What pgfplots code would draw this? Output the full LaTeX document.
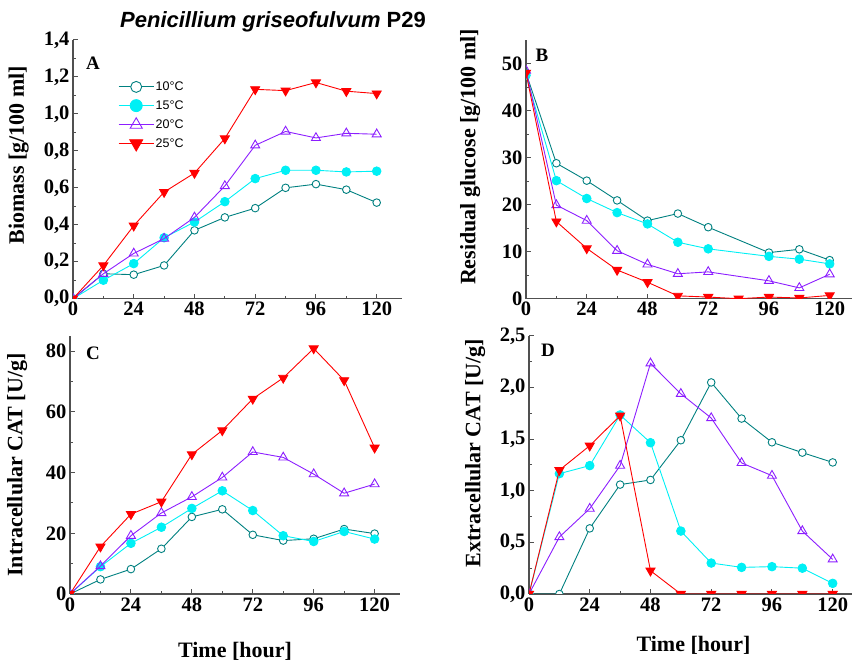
\documentclass[border=0pt]{standalone}
\usepackage{fontspec}
\setmainfont{Liberation Serif}
\newfontfamily\sansf{Liberation Sans}
\usepackage{pgfplots}
\pgfplotsset{compat=1.18}

\definecolor{cTen}{RGB}{0,128,128}
\definecolor{cFifteen}{RGB}{0,240,245}
\definecolor{cTwenty}{RGB}{140,30,255}
\definecolor{cTwentyFive}{RGB}{255,0,0}
\definecolor{axisgray}{RGB}{80,80,80}

\pgfplotsset{
  panel/.style={
    scale only axis, width=329pt, height=258.7pt,
    xmin=0, xmax=130, ymin=0,
    axis x line*=bottom, axis y line*=left,
    every outer x axis line/.append style={-},
    every outer y axis line/.append style={-},
    axis line style={-, draw=axisgray, line width=1.3pt},
    tick align=inside,
    major tick length=5pt, minor tick length=3pt,
    tick style={draw=axisgray, line width=1pt},
    xtick={0,24,...,120}, minor x tick num=1,
    minor y tick num=1,
    tick label style={font=\bfseries\fontsize{20.5}{20.5}\selectfont},
    /pgf/number format/assume math mode=true,
    clip marker paths=true,
  },
  ylab/.style 2 args={
    every axis y label/.style={at={(axis description cs:#1,#2)}, rotate=90, anchor=center,
      font=\bfseries\fontsize{22}{22}\selectfont}},
  xlab/.style={
    every axis x label/.style={at={(axis description cs:0.5,#1)}, anchor=center,
      font=\bfseries\fontsize{22}{22}\selectfont}},
  comma/.style={yticklabel style={/pgf/number format/.cd, use comma, fixed, fixed zerofill, precision=1}},
  s10/.style={color=cTen, line width=0.9pt, mark=*, mark size=3.8pt, mark options={fill=white, line width=0.9pt}},
  s15/.style={color=cFifteen, line width=0.9pt, mark=*, mark size=4.3pt},
  s20/.style={color=cTwenty, line width=0.9pt, mark=triangle, mark size=5.2pt, mark options={fill=white, line width=0.9pt}},
  s25/.style={color=cTwentyFive, line width=0.9pt, mark=triangle*, mark size=5.2pt, mark options={rotate=180}},
}

\begin{document}
\begin{tikzpicture}
\path[use as bounding box] (0,0) rectangle (852pt,664pt);

% Title
\node[font=\sansf\bfseries\fontsize{22}{22}\selectfont, anchor=base] at (273pt,636pt)
  {\itshape Penicillium griseofulvum\/ \upshape P29};

% A: biomass
\begin{axis}[panel, comma, at={(73pt,365.3pt)}, anchor=south west,
  ymax=1.4, ytick={0,0.2,...,1.41},
  ylabel={Biomass [g/100 ml]}, ylab={-0.165}{0.555},
  legend style={draw=none, fill=none, at={(axis description cs:0.137,0.845)}, anchor=north west,
    font=\sansf\fontsize{12.5}{12.5}\selectfont, row sep=5.5pt, inner sep=0pt, nodes={inner sep=1.5pt}},
  legend cell align=left,
  legend image code/.code={\draw[mark repeat=2, mark phase=2] plot coordinates {(0pt,0pt) (17.5pt,0pt) (35pt,0pt)};},
]
\addplot[s10, forget plot] coordinates {(0,0)(12,0.135)(24,0.13)(36,0.18)(48,0.37)(60,0.44)(72,0.49)(84,0.60)(96,0.62)(108,0.59)(120,0.52)};
\addplot[s15, forget plot] coordinates {(0,0)(12,0.10)(24,0.19)(36,0.33)(48,0.415)(60,0.525)(72,0.65)(84,0.695)(96,0.695)(108,0.686)(120,0.69)};
\addplot[s20, forget plot] coordinates {(0,0)(12,0.135)(24,0.245)(36,0.325)(48,0.44)(60,0.61)(72,0.83)(84,0.905)(96,0.87)(108,0.895)(120,0.89)};
\addplot[s25, forget plot] coordinates {(0,0)(12,0.18)(24,0.395)(36,0.577)(48,0.68)(60,0.867)(72,1.133)(84,1.126)(96,1.17)(108,1.123)(120,1.11)};
\addlegendimage{s10, mark size=5.5pt}
\addlegendentry{10°C}
\addlegendimage{s15, mark size=6pt}
\addlegendentry{15°C}
\addlegendimage{s20, mark size=7pt}
\addlegendentry{20°C}
\addlegendimage{s25, mark size=7.5pt}
\addlegendentry{25°C}
\end{axis}
\node[font=\bfseries\fontsize{19}{19}\selectfont] at (93pt,601pt) {A};

% B: residual glucose
\begin{axis}[panel, at={(526pt,365.3pt)}, anchor=south west,
  ymax=55, ytick={0,10,...,50},
  ylabel={Residual glucose [g/100 ml]}, ylab={-0.170}{0.548},
]
\addplot[s10] coordinates {(0,48)(12,28.8)(24,25.1)(36,20.9)(48,16.6)(60,18.1)(72,15.2)(96,9.8)(108,10.5)(120,8.2)};
\addplot[s15] coordinates {(0,47.5)(12,25.1)(24,21.3)(36,18.3)(48,15.9)(60,12.0)(72,10.6)(96,9.0)(108,8.4)(120,7.4)};
\addplot[s20] coordinates {(0,48.5)(12,19.9)(24,16.6)(36,10.2)(48,7.3)(60,5.3)(72,5.7)(96,3.8)(108,2.3)(120,5.2)};
\addplot[s25] coordinates {(0,48)(12,16.4)(24,10.7)(36,6.1)(48,3.5)(60,0.6)(72,0.35)(84,0)(96,0.35)(108,0.15)(120,0.7)};
\end{axis}
\node[font=\bfseries\fontsize{19}{19}\selectfont] at (542pt,609pt) {B};

% C: intracellular CAT
\begin{axis}[panel, at={(70pt,70pt)}, anchor=south west, width=330pt, height=258pt,
  ymax=85, ytick={0,20,...,80},
  ylabel={Intracellular CAT [U/g]}, ylab={-0.160}{0.5},
  xlabel={Time [hour]}, xlab={-0.221},
]
\addplot[s10] coordinates {(0,0)(12,4.8)(24,8.2)(36,14.9)(48,25.4)(60,27.9)(72,19.5)(84,17.6)(96,18.2)(108,21.4)(120,19.9)};
\addplot[s15] coordinates {(0,0)(12,9.0)(24,16.7)(36,22.0)(48,28.2)(60,34.0)(72,27.5)(84,19.2)(96,17.3)(108,20.6)(120,18.1)};
\addplot[s20] coordinates {(0,0)(12,9.2)(24,19.2)(36,26.7)(48,32.0)(60,38.4)(72,46.8)(84,45.0)(96,39.5)(108,33.2)(120,36.2)};
\addplot[s25] coordinates {(0,0)(12,15.6)(24,26.3)(36,30.4)(48,46.0)(60,53.9)(72,64.3)(84,71.2)(96,80.9)(108,70.4)(120,48.2)};
\end{axis}
\node[font=\bfseries\fontsize{19}{19}\selectfont] at (93pt,311pt) {C};

% D: extracellular CAT
\begin{axis}[panel, comma, at={(529pt,70pt)}, anchor=south west, height=258pt,
  ymax=2.5, ytick={0,0.5,...,2.51},
  ylabel={Extracellular CAT [U/g]}, ylab={-0.164}{0.546},
  xlabel={Time [hour]}, xlab={-0.198},
]
\addplot[s10] coordinates {(0,0)(12,0)(24,0.636)(36,1.06)(48,1.105)(60,1.49)(72,2.05)(84,1.70)(96,1.47)(108,1.37)(120,1.275)};
\addplot[s15] coordinates {(0,0)(12,1.166)(24,1.244)(36,1.735)(48,1.466)(60,0.61)(72,0.30)(84,0.258)(96,0.265)(108,0.25)(120,0.103)};
\addplot[s20] coordinates {(0,0)(12,0.552)(24,0.827)(36,1.244)(48,2.235)(60,1.94)(72,1.705)(84,1.27)(96,1.147)(108,0.61)(120,0.336)};
\addplot[s25] coordinates {(0,0)(12,1.20)(24,1.437)(36,1.728)(48,0.226)(60,0)(72,0)(84,0)(96,0)(108,0)(120,0)};
\end{axis}
\node[font=\bfseries\fontsize{19}{19}\selectfont] at (548pt,314pt) {D};
\end{tikzpicture}
\end{document}
